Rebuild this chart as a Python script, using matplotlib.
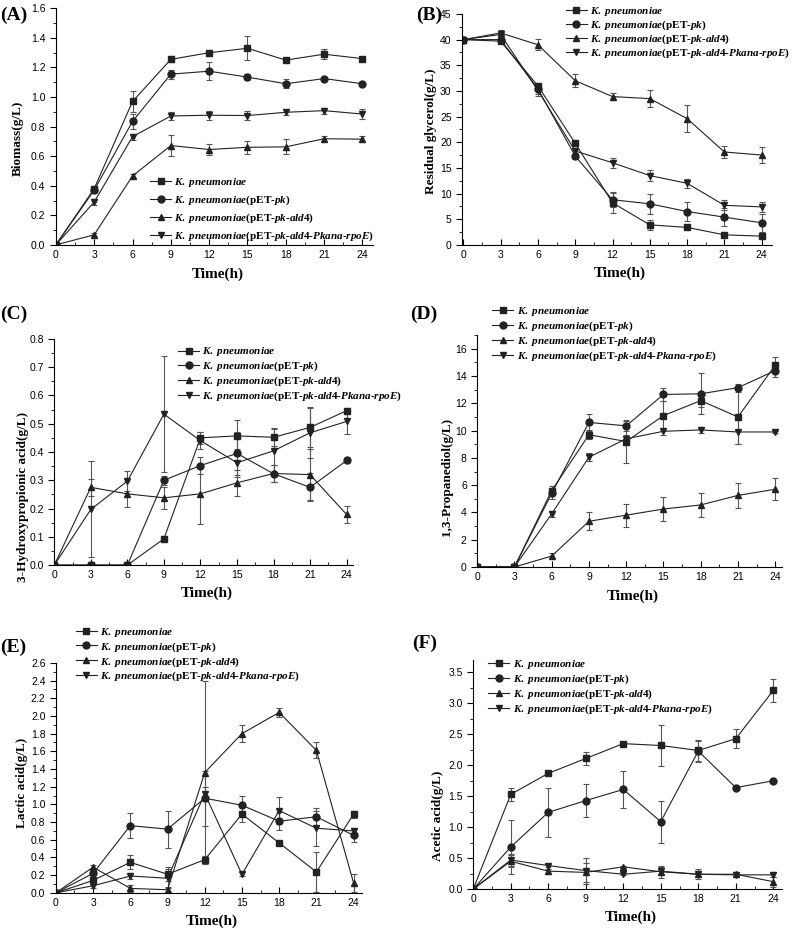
import matplotlib
matplotlib.use('Agg')
import matplotlib.pyplot as plt
from matplotlib.ticker import MultipleLocator, FormatStrFormatter

plt.rcParams['mathtext.fontset'] = 'custom'
plt.rcParams['mathtext.rm'] = 'Liberation Serif:bold'
plt.rcParams['mathtext.it'] = 'Liberation Serif:italic:bold'
plt.rcParams['mathtext.bf'] = 'Liberation Serif:bold'

time = [0, 3, 6, 9, 12, 15, 18, 21, 24]

labels = [
    r'$\mathit{K.\ pneumoniae}$',
    r'$\mathit{K.\ pneumoniae}$(pET-$\mathit{pk}$)',
    r'$\mathit{K.\ pneumoniae}$(pET-$\mathit{pk}$-$\mathit{ald4}$)',
    r'$\mathit{K.\ pneumoniae}$(pET-$\mathit{pk}$-$\mathit{ald4}$-$\mathit{Pkana}$-$\mathit{rpoE}$)',
]
markers = ['s', 'o', '^', 'v']

# (A) biomass
bio_kp = [0, 0.38, 0.97, 1.255, 1.30, 1.33, 1.25, 1.29, 1.26]
bio_pk = [0, 0.37, 0.835, 1.155, 1.175, 1.135, 1.09, 1.125, 1.09]
bio_ald4 = [0, 0.068, 0.466, 0.672, 0.645, 0.66, 0.663, 0.718, 0.715]
bio_rpoe = [0, 0.29, 0.732, 0.872, 0.877, 0.875, 0.897, 0.908, 0.885]
bio_kp_err = [0, 0.02, 0.07, 0.02, 0.02, 0.08, 0.01, 0.035, 0.01]
bio_pk_err = [0, 0.02, 0.05, 0.03, 0.06, 0.02, 0.03, 0.01, 0.01]
bio_ald4_err = [0, 0.01, 0.015, 0.07, 0.04, 0.045, 0.05, 0.02, 0.02]
bio_rpoe_err = [0, 0.02, 0.02, 0.03, 0.03, 0.03, 0.02, 0.02, 0.035]

# (B) residual glycerol
gly_kp = [40, 39.7, 31.0, 19.8, 8.2, 3.9, 3.4, 1.95, 1.7]
gly_pk = [40, 40.0, 30.4, 17.3, 8.8, 8.0, 6.5, 5.4, 4.3]
gly_ald4 = [40, 41.3, 39.0, 32.0, 28.9, 28.5, 24.6, 18.1, 17.5]
gly_rpoe = [40, 41.0, 30.1, 18.3, 16.0, 13.5, 12.0, 7.7, 7.4]
gly_kp_err = [0, 0.3, 0.5, 0.6, 2.0, 1.0, 0.3, 0.5, 0.3]
gly_pk_err = [0, 0.3, 1.0, 0.5, 1.5, 1.9, 1.8, 1.8, 1.7]
gly_ald4_err = [0, 0.5, 1.1, 1.3, 0.6, 1.6, 2.6, 1.1, 1.5]
gly_rpoe_err = [0, 0.5, 1.0, 0.5, 1.0, 1.0, 0.9, 1.0, 0.9]

# (C) 3-hydroxypropionic acid
hp_kp = [0, 0, 0, 0.093, 0.45, 0.457, 0.452, 0.487, 0.546]
hp_pk = [0, 0, 0, 0.30, 0.352, 0.395, 0.323, 0.275, 0.37]
hp_ald4 = [0, 0.275, 0.252, 0.238, 0.252, 0.291, 0.324, 0.32, 0.179]
hp_rpoe = [0, 0.197, 0.297, 0.534, 0.44, 0.362, 0.404, 0.468, 0.508]
hp_kp_err = [0, 0, 0, 0.005, 0.02, 0.055, 0.03, 0.07, 0.01]
hp_pk_err = [0, 0, 0, 0.015, 0.03, 0.075, 0.03, 0.05, 0.01]
hp_ald4_err = [0, 0.03, 0.045, 0.04, 0.105, 0.045, 0.03, 0.09, 0.03]
hp_rpoe_err = [0, 0.17, 0.035, 0.205, 0.03, 0.05, 0.08, 0.09, 0.045]

# (D) 1,3-propanediol
pdo_kp = [0, 0, 5.6, 9.7, 9.2, 11.1, 12.2, 11.0, 14.8]
pdo_pk = [0, 0, 5.4, 10.6, 10.35, 12.65, 12.7, 13.15, 14.4]
pdo_ald4 = [0, 0, 0.8, 3.35, 3.8, 4.25, 4.55, 5.25, 5.7]
pdo_rpoe = [0, 0, 3.9, 8.05, 9.4, 9.95, 10.05, 9.9, 9.9]
pdo_kp_err = [0, 0, 0.35, 0.35, 1.6, 1.1, 0.5, 2.0, 0.6]
pdo_pk_err = [0, 0, 0.4, 0.6, 0.35, 0.45, 1.5, 0.3, 0.5]
pdo_ald4_err = [0, 0, 0.2, 0.65, 0.85, 0.85, 0.85, 0.9, 0.8]
pdo_rpoe_err = [0, 0, 0.2, 0.3, 0.3, 0.25, 0.25, 0.9, 0.1]

# (E) lactic acid
lac_kp = [0, 0.14, 0.345, 0.21, 0.375, 0.89, 0.565, 0.235, 0.89]
lac_pk = [0, 0.22, 0.76, 0.72, 1.07, 0.99, 0.81, 0.86, 0.65]
lac_ald4 = [0, 0.29, 0.05, 0.035, 1.36, 1.80, 2.04, 1.61, 0.11]
lac_rpoe = [0, 0.08, 0.19, 0.165, 1.12, 0.21, 0.93, 0.73, 0.70]
lac_kp_err = [0, 0.02, 0.08, 0.08, 0.04, 0.09, 0.02, 0.23, 0.04]
lac_pk_err = [0, 0.02, 0.14, 0.21, 0.31, 0.11, 0.1, 0.1, 0.08]
lac_ald4_err = [0, 0.02, 0.04, 0.02, 1.03, 0.1, 0.05, 0.09, 0.1]
lac_rpoe_err = [0, 0.02, 0.03, 0.1, 0.08, 0.02, 0.15, 0.2, 0.02]

# (F) acetic acid
ace_kp = [0, 1.53, 1.87, 2.11, 2.35, 2.32, 2.24, 2.43, 3.21]
ace_pk = [0, 0.68, 1.24, 1.43, 1.61, 1.09, 2.23, 1.64, 1.75]
ace_ald4 = [0, 0.45, 0.29, 0.27, 0.36, 0.28, 0.24, 0.24, 0.12]
ace_rpoe = [0, 0.47, 0.38, 0.30, 0.24, 0.29, 0.24, 0.23, 0.23]
ace_kp_err = [0, 0.1, 0.03, 0.1, 0.01, 0.33, 0.17, 0.15, 0.18]
ace_pk_err = [0, 0.44, 0.4, 0.26, 0.3, 0.34, 0.17, 0.01, 0.01]
ace_ald4_err = [0, 0.1, 0.04, 0.15, 0.02, 0.1, 0.05, 0.03, 0.08]
ace_rpoe_err = [0, 0.09, 0.03, 0.21, 0.02, 0.07, 0.08, 0.02, 0.04]

fig = plt.figure(figsize=(7.98, 9.31), dpi=100)

panels = [
    # tag, rect, series, errors, ylim, ystep, fmt, ylabel, ylab_xy, xlim, legend anchor, labelspacing, tag pos
    ('(A)', [0.070, 0.737, 0.397, 0.254], [bio_kp, bio_pk, bio_ald4, bio_rpoe],
     [bio_kp_err, bio_pk_err, bio_ald4_err, bio_rpoe_err], (0, 1.6), 0.2, '%.1f',
     'Biomass(g/L)', (-0.12, 0.45), (0, 24.8), (0.188, 0.811), 0.4, (0.0, 0.984)),
    ('(B)', [0.579, 0.737, 0.388, 0.248], [gly_kp, gly_pk, gly_ald4, gly_rpoe],
     [gly_kp_err, gly_pk_err, gly_ald4_err, gly_rpoe_err], (0, 45), 5, '%d',
     'Residual glycerol(g/L)', (-0.1, 0.49), (-0.1, 24.8), (0.709, 0.995), 0.05, (0.521, 0.984)),
    ('(C)', [0.068, 0.393, 0.374, 0.243], [hp_kp, hp_pk, hp_ald4, hp_rpoe],
     [hp_kp_err, hp_pk_err, hp_ald4_err, hp_rpoe_err], (0, 0.8), 0.1, '%.1f',
     '3-Hydroxypropionic acid(g/L)', (-0.105, 0.3), (0, 24.5), (0.223, 0.629), 0.13, (0.0, 0.662)),
    ('(D)', [0.598, 0.391, 0.382, 0.249], [pdo_kp, pdo_pk, pdo_ald4, pdo_rpoe],
     [pdo_kp_err, pdo_pk_err, pdo_ald4_err, pdo_rpoe_err], (0, 17), 2, '%d',
     '1,3-Propanediol(g/L)', (-0.098, 0.39), (0, 24.55), (0.617, 0.672), 0.13, (0.514, 0.662)),
    ('(E)', [0.070, 0.041, 0.384, 0.247], [lac_kp, lac_pk, lac_ald4, lac_rpoe],
     [lac_kp_err, lac_pk_err, lac_ald4_err, lac_rpoe_err], (0, 2.6), 0.2, '%.1f',
     'Lactic acid(g/L)', (-0.11, 0.48), (0, 24.7), (0.095, 0.328), 0.13, (0.0, 0.305)),
    ('(F)', [0.593, 0.045, 0.387, 0.246], [ace_kp, ace_pk, ace_ald4, ace_rpoe],
     [ace_kp_err, ace_pk_err, ace_ald4_err, ace_rpoe_err], (0, 3.7), 0.5, '%.1f',
     'Acetic acid(g/L)', (-0.113, 0.32), (0, 24.7), (0.612, 0.293), 0.13, (0.516, 0.309)),
]

for tag, rect, series, errs, ylim, ystep, fmt, ylabel, ylab_xy, xlim, leg_xy, lsp, tag_xy in panels:
    ax = fig.add_axes(rect)
    handles = []
    for vals, err, mk, lab in zip(series, errs, markers, labels):
        cont = ax.errorbar(time, vals, yerr=err, color='#222222', ecolor='#555555',
                           elinewidth=0.8, capsize=2.5, capthick=0.8, lw=0.8,
                           marker=mk, markersize=5, label=lab)
        handles.append(cont[0])
    ax.set_xlim(*xlim)
    ax.set_ylim(*ylim)
    ax.xaxis.set_major_locator(MultipleLocator(3))
    ax.xaxis.set_minor_locator(MultipleLocator(1.5))
    ax.yaxis.set_major_locator(MultipleLocator(ystep))
    ax.yaxis.set_minor_locator(MultipleLocator(ystep / 2))
    ax.yaxis.set_major_formatter(FormatStrFormatter(fmt))
    ax.spines['top'].set_visible(False)
    ax.spines['right'].set_visible(False)
    ax.tick_params(axis='x', which='both', direction='in')
    ax.tick_params(axis='y', which='both', direction='out')
    ax.tick_params(which='major', length=4, width=0.8, labelsize=7.5)
    ax.tick_params(which='minor', length=2, width=0.6)
    for t in ax.get_xticklabels() + ax.get_yticklabels():
        t.set_family('Liberation Sans')
    ax.set_xlabel('Time(h)', family='Liberation Serif', fontweight='bold', fontsize=11, va='center')
    ax.xaxis.set_label_coords(0.51, -0.125)
    ax.set_ylabel(ylabel, family='Liberation Serif', fontweight='bold', fontsize=9.5, va='center')
    ax.yaxis.set_label_coords(*ylab_xy)

    ax.legend(handles, labels, loc='upper left', bbox_to_anchor=leg_xy,
              bbox_transform=fig.transFigure, frameon=False,
              prop={'family': 'Liberation Serif', 'weight': 'bold', 'size': 8},
              handlelength=1.9, handletextpad=0.3, labelspacing=lsp, borderpad=0,
              borderaxespad=0)

    fig.text(tag_xy[0], tag_xy[1], tag, family='Liberation Serif',
             fontweight='bold', fontsize=14, ha='left', va='center')

fig.savefig('out.png', dpi=100)
